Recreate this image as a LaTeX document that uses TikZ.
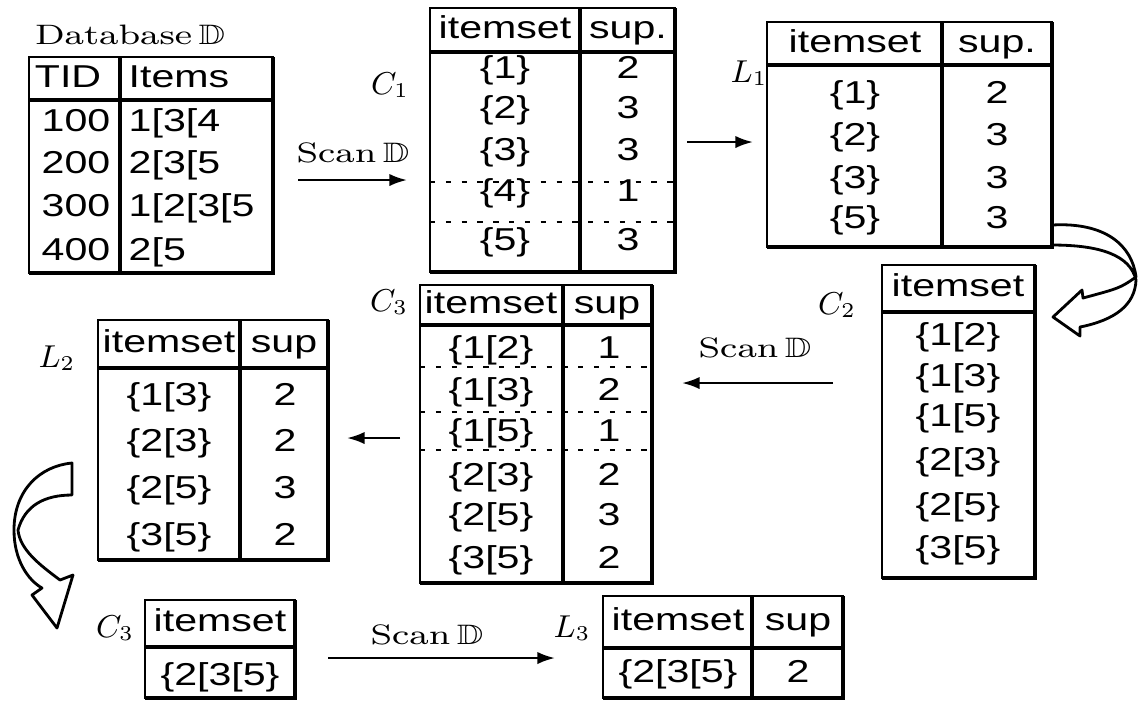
\documentclass[tikz,border=0pt]{standalone}
\usepackage{amssymb}
\usepackage{graphicx}
\usepackage{fontspec}
\newfontfamily\tabfont[FakeStretch=1.3]{Liberation Sans}
\usetikzlibrary{arrows.meta}
\newcommand{\wide}[1]{\scalebox{1.3}[1]{#1}}
\tikzset{
  cell/.style={font=\tabfont\fontsize{9}{10}\selectfont, inner sep=0pt, text height=7pt, text depth=2pt},
  lab/.style={font=\fontsize{8}{9}\selectfont, inner sep=0pt},
  setlab/.style={font=\fontsize{9}{10}\selectfont, inner sep=0pt},
  tabframe/.style={line width=0.6pt},
  tabrule/.style={line width=1.2pt},
  pruned/.style={line width=0.4pt, dash pattern=on 1.5pt off 3pt},
  scanarrow/.style={line width=0.7pt, -{Latex[length=5pt,width=3.5pt]}},
  hollowarrow/.style={line width=0.8pt, fill=white, line join=round}
}

\begin{document}
\begin{tikzpicture}
\useasboundingbox (0,0) rectangle (11.38,-7.00);

% curved arrows L1 -> C2 and L2 -> C3
\draw[hollowarrow] (10.52,-2.25) .. controls (11.05,-2.22) and (11.32,-2.45) .. (11.36,-2.77)
  .. controls (11.20,-2.88) .. (10.83,-2.98) -- (10.82,-2.90) -- (10.53,-3.17) -- (10.80,-3.36)
  -- (10.80,-3.27) .. controls (11.15,-3.20) and (11.35,-3.05) .. (11.36,-2.80)
  .. controls (11.30,-2.55) and (11.00,-2.45) .. (10.52,-2.45) -- cycle;
\draw[hollowarrow] (0.72,-4.63) .. controls (0.40,-4.66) and (0.14,-4.90) .. (0.14,-5.30)
  .. controls (0.14,-5.60) and (0.28,-5.80) .. (0.42,-5.88) -- (0.32,-5.95) -- (0.57,-6.28)
  -- (0.73,-5.75) -- (0.60,-5.80) .. controls (0.40,-5.65) and (0.20,-5.50) .. (0.18,-5.30)
  .. controls (0.25,-5.05) and (0.45,-4.95) .. (0.72,-4.95) -- cycle;

% Database D
\node[lab] (dbtitle) at (1.30,-0.35) {\wide{Database$\,\mathbb{D}$}};
\draw[tabframe] (0.29,-0.57) rectangle (2.73,-2.73);
\draw[tabrule] (2.73,-0.57) -- (2.73,-2.73) -- (0.29,-2.73);
\draw[tabrule] (0.29,-1.00) -- (2.73,-1.00);
\draw[tabrule] (1.20,-0.57) -- (1.20,-2.73);
\node[cell] (tidh) at (0.68,-0.79) {TID};
\node[cell, anchor=west] (itemsh) at (1.28,-0.79) {Items};
\foreach \y/\t/\s [count=\k] in {1.23/100/{1[3[4}, 1.65/200/{2[3[5}, 2.08/300/{1[2[3[5}, 2.52/400/{2[5}} {
  \node[cell] (tid\k) at (0.76,-\y) {\t};
  \node[cell, anchor=west] (items\k) at (1.28,-\y) {\s};
}

% scan -> C1
\coordinate (s1a) at (2.98,-1.80);
\coordinate (s1b) at (4.07,-1.80);
\draw[scanarrow] (s1a) -- (s1b);
\node[lab] (scan1) at (3.53,-1.53) {\wide{Scan$\,\mathbb{D}$}};
\node[setlab] (c1lab) at (3.90,-0.85) {$C_1$};

% C1
\draw[tabframe] (4.30,-0.08) rectangle (6.75,-2.72);
\draw[tabrule] (6.75,-0.08) -- (6.75,-2.72) -- (4.30,-2.72);
\draw[tabrule] (4.30,-0.52) -- (6.75,-0.52);
\draw[tabrule] (5.80,-0.08) -- (5.80,-2.72);
\draw[pruned] (4.30,-1.82) -- (6.75,-1.82) (4.30,-2.22) -- (6.75,-2.22);
\node[cell] (c1h1) at (5.05,-0.30) {itemset};
\node[cell] (c1h2) at (6.28,-0.30) {sup.};
\foreach \y/\s/\n [count=\k] in {0.70/1/2, 1.10/2/3, 1.52/3/3, 1.93/4/1, 2.42/5/3} {
  \node[cell] (c1s\k) at (5.05,-\y) {\{\s\}};
  \node[cell] (c1n\k) at (6.28,-\y) {\n};
}

% C1 -> L1
\coordinate (a2a) at (6.87,-1.42);
\coordinate (a2b) at (7.53,-1.42);
\draw[scanarrow] (a2a) -- (a2b);
\node[setlab] (l1lab) at (7.49,-0.73) {$L_1$};

% L1
\draw[tabframe] (7.67,-0.22) rectangle (10.52,-2.47);
\draw[tabrule] (10.52,-0.22) -- (10.52,-2.47) -- (7.67,-2.47);
\draw[tabrule] (7.67,-0.65) -- (10.52,-0.65);
\draw[tabrule] (9.42,-0.22) -- (9.42,-2.47);
\node[cell] (l1h1) at (8.55,-0.44) {itemset};
\node[cell] (l1h2) at (9.97,-0.44) {sup.};
\foreach \y/\s/\n [count=\k] in {0.95/1/2, 1.37/2/3, 1.80/3/3, 2.20/5/3} {
  \node[cell] (l1s\k) at (8.55,-\y) {\{\s\}};
  \node[cell] (l1n\k) at (9.97,-\y) {\n};
}

% C2
\node[setlab] (c2lab) at (8.37,-3.05) {$C_2$};
\draw[tabframe] (8.82,-2.65) rectangle (10.35,-5.78);
\draw[tabrule] (10.35,-2.65) -- (10.35,-5.78) -- (8.82,-5.78);
\draw[tabrule] (8.82,-3.12) -- (10.35,-3.12);
\node[cell] (c2h1) at (9.58,-2.88) {itemset};
\foreach \y/\s [count=\k] in {3.37/{1[2}, 3.78/{1[3}, 4.18/{1[5}, 4.62/{2[3}, 5.07/{2[5}, 5.50/{3[5}} {
  \node[cell] (c2s\k) at (9.58,-\y) {\{\s\}};
}

% scan -> C3
\coordinate (s2a) at (8.33,-3.83);
\coordinate (s2b) at (6.82,-3.83);
\draw[scanarrow] (s2a) -- (s2b);
\node[lab] (scan2) at (7.55,-3.48) {\wide{Scan$\,\mathbb{D}$}};
\node[setlab] (c3lab) at (3.89,-3.02) {$C_3$};

% C3 (counted pairs)
\draw[tabframe] (4.20,-2.85) rectangle (6.52,-5.83);
\draw[tabrule] (6.52,-2.85) -- (6.52,-5.83) -- (4.20,-5.83);
\draw[tabrule] (4.20,-3.25) -- (6.52,-3.25);
\draw[tabrule] (5.63,-2.85) -- (5.63,-5.83);
\draw[pruned] (4.20,-3.67) -- (6.52,-3.67) (4.20,-4.12) -- (6.52,-4.12) (4.20,-4.50) -- (6.52,-4.50);
\node[cell] (c3h1) at (4.91,-3.05) {itemset};
\node[cell] (c3h2) at (6.07,-3.05) {sup};
\foreach \y/\s/\n [count=\k] in {3.50/{1[2}/1, 3.92/{1[3}/2, 4.33/{1[5}/1, 4.77/{2[3}/2, 5.17/{2[5}/3, 5.60/{3[5}/2} {
  \node[cell] (c3s\k) at (4.91,-\y) {\{\s\}};
  \node[cell] (c3n\k) at (6.09,-\y) {\n};
}

% C3 -> L2
\coordinate (a4a) at (4.00,-4.38);
\coordinate (a4b) at (3.47,-4.38);
\draw[scanarrow] (a4a) -- (a4b);
\node[setlab] (l2lab) at (0.57,-3.58) {$L_2$};

% L2
\draw[tabframe] (0.98,-3.20) rectangle (3.28,-5.60);
\draw[tabrule] (3.28,-3.20) -- (3.28,-5.60) -- (0.98,-5.60);
\draw[tabrule] (0.98,-3.68) -- (3.28,-3.68);
\draw[tabrule] (2.40,-3.20) -- (2.40,-5.60);
\node[cell] (l2h1) at (1.69,-3.44) {itemset};
\node[cell] (l2h2) at (2.84,-3.44) {sup};
\foreach \y/\s/\n [count=\k] in {3.97/{1[3}/2, 4.43/{2[3}/2, 4.90/{2[5}/3, 5.37/{3[5}/2} {
  \node[cell] (l2s\k) at (1.69,-\y) {\{\s\}};
  \node[cell] (l2n\k) at (2.85,-\y) {\n};
}

% C3 (triple)
\node[setlab] (c3blab) at (1.15,-6.28) {$C_3$};
\draw[tabframe] (1.45,-6.00) rectangle (2.95,-6.98);
\draw[tabrule] (2.95,-6.00) -- (2.95,-6.98) -- (1.45,-6.98);
\draw[tabrule] (1.45,-6.47) -- (2.95,-6.47);
\node[cell] (c3bh) at (2.20,-6.23) {itemset};
\node[cell] (c3bs) at (2.20,-6.77) {\{2[3[5\}};

% scan -> L3
\coordinate (s3a) at (3.28,-6.58);
\coordinate (s3b) at (5.55,-6.58);
\draw[scanarrow] (s3a) -- (s3b);
\node[lab] (scan3) at (4.27,-6.35) {\wide{Scan$\,\mathbb{D}$}};
\node[setlab] (l3lab) at (5.72,-6.28) {$L_3$};

% L3
\draw[tabframe] (6.03,-5.96) rectangle (8.43,-6.98);
\draw[tabrule] (8.43,-5.96) -- (8.43,-6.98) -- (6.03,-6.98);
\draw[tabrule] (6.03,-6.48) -- (8.43,-6.48);
\draw[tabrule] (7.52,-5.96) -- (7.52,-6.98);
\node[cell] (l3h1) at (6.78,-6.22) {itemset};
\node[cell] (l3h2) at (7.98,-6.22) {sup};
\node[cell] (l3s) at (6.78,-6.74) {\{2[3[5\}};
\node[cell] (l3n) at (7.98,-6.74) {2};
\end{tikzpicture}
\end{document}
